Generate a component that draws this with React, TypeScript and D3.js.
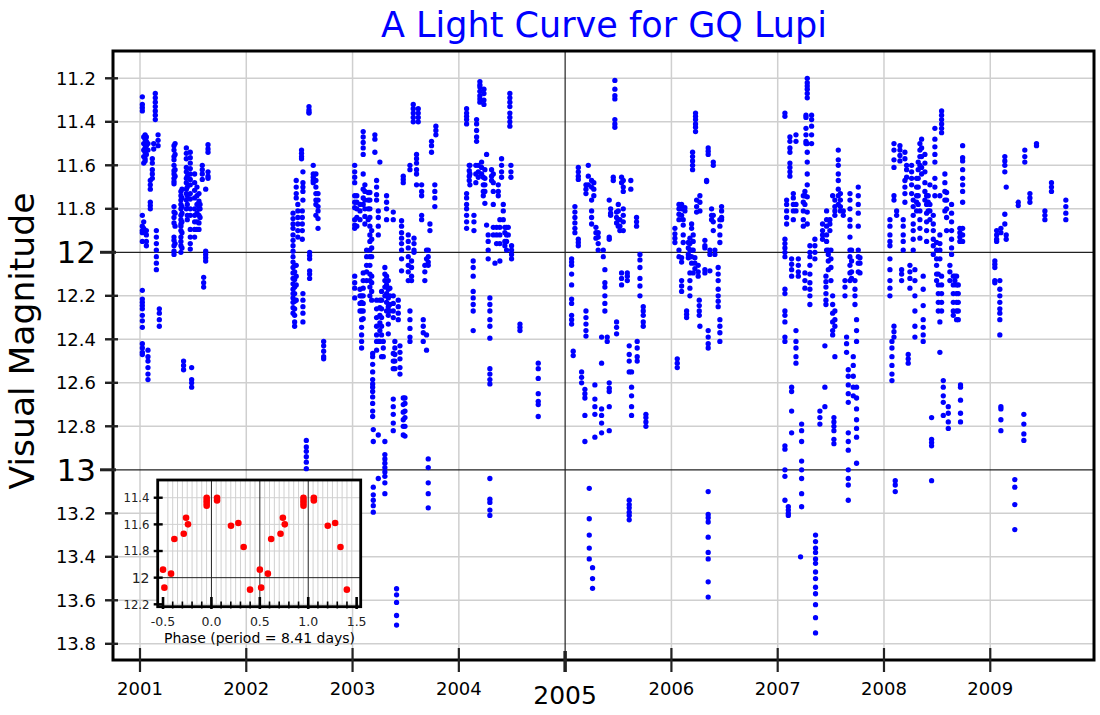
import React from 'react';
import * as d3 from 'd3';

type Col = [number, number[]];

// Observation nights: [decimal year, visual magnitudes]
const s2001: Col[] = [
  [2001.022, [11.285, 11.32, 11.335, 11.35, 11.83, 11.88, 11.9, 11.91, 11.95, 12.175, 12.215, 12.23, 12.245, 12.26, 12.29, 12.315, 12.345, 12.42, 12.44, 12.46, 12.47]],
  [2001.035, [11.47, 11.5, 11.53, 11.56, 11.59, 11.86, 11.89]],
  [2001.048, [11.46, 11.48, 11.5, 11.52, 11.54, 11.57, 11.58]],
  [2001.06, [11.47, 11.49, 11.51, 11.55, 11.9, 11.92, 11.95, 11.97]],
  [2001.075, [11.5, 11.53, 12.45, 12.48, 12.5, 12.53, 12.56, 12.585]],
  [2001.097, [11.67, 11.69, 11.71, 11.77, 11.785, 11.8]],
  [2001.116, [11.57, 11.59, 11.62, 11.64, 11.66]],
  [2001.129, [11.5, 11.525]],
  [2001.144, [11.27, 11.29, 11.31, 11.33, 11.35, 11.37, 11.39]],
  [2001.154, [11.9, 11.93, 11.96, 11.99, 12.02, 12.05, 12.08]],
  [2001.17, [11.46, 11.485, 11.51]],
  [2001.182, [12.26, 12.28, 12.31, 12.34]],
  [2001.32, [11.51, 11.53, 11.56, 11.575, 11.6, 11.625, 11.64, 11.66, 11.675, 11.685, 11.79, 11.815, 11.84, 11.865, 11.93, 11.945, 11.97, 11.995, 12.01]],
  [2001.33, [11.5, 11.55, 11.62, 11.65, 11.82, 11.88, 11.96]],
  [2001.385, [11.72, 11.74, 11.76, 11.78, 11.8, 11.83, 11.85, 11.87, 11.88, 11.9, 11.93, 11.95, 11.97, 12.0]],
  [2001.395, [11.71, 11.75, 11.79, 11.82, 11.86, 11.91, 11.98]],
  [2001.41, [12.5, 12.52, 12.54]],
  [2001.436, [11.52, 11.545, 11.57, 11.61, 11.63, 11.66, 11.68, 11.71, 11.73, 11.76, 11.8]],
  [2001.445, [11.65, 11.7, 11.74, 11.78, 11.83, 11.85]],
  [2001.473, [11.54, 11.565, 11.59, 11.615, 11.64, 11.665, 11.69, 11.73, 11.755, 11.8, 11.83, 11.895, 11.93, 11.96, 11.985]],
  [2001.486, [12.53, 12.585, 12.6, 12.62]],
  [2001.514, [11.64, 11.68, 11.715, 11.75, 11.8, 11.83, 11.86, 11.895, 11.93]],
  [2001.536, [11.7, 11.74, 11.78, 11.82, 11.86, 11.895]],
  [2001.555, [11.73, 11.765, 11.8, 11.83, 11.865, 11.895]],
  [2001.565, [11.78, 11.8, 11.84]],
  [2001.586, [11.6, 11.62, 11.64, 11.665]],
  [2001.599, [12.115, 12.14, 12.16]],
  [2001.618, [11.71, 11.995, 12.01, 12.025, 12.04]],
  [2001.64, [11.505, 11.525, 11.54, 11.63, 11.65, 11.66]],
];

const s2002: Col[] = [
  [2002.44, [11.82, 11.845, 11.87, 11.89, 11.92, 11.945, 11.97, 11.995, 12.02, 12.045, 12.07, 12.095, 12.12, 12.145, 12.17, 12.19, 12.21, 12.23, 12.255, 12.28]],
  [2002.455, [12.06, 12.09, 12.125, 12.16, 12.19, 12.225, 12.26, 12.29, 12.32, 12.34]],
  [2002.47, [11.67, 11.7, 11.73, 11.75, 12.06, 12.11, 12.15, 12.22]],
  [2002.485, [11.78, 11.81, 11.84, 11.87, 11.9, 11.93]],
  [2002.52, [11.53, 11.545, 11.56, 11.57]],
  [2002.527, [11.81, 11.84, 11.87, 11.9, 11.94]],
  [2002.533, [11.63, 11.68, 11.7, 11.72, 11.76, 12.19, 12.22, 12.25, 12.28, 12.32]],
  [2002.565, [12.865, 12.895, 12.915, 12.94, 12.965, 12.995]],
  [2002.59, [11.33, 11.345, 11.355, 11.36]],
  [2002.596, [12.0, 12.015, 12.03, 12.085, 12.1, 12.12]],
  [2002.63, [11.6, 11.64, 11.655, 11.67, 11.68]],
  [2002.655, [11.64, 11.67, 11.7, 11.73, 11.76, 11.78, 11.83]],
  [2002.675, [11.73, 11.76, 11.79, 11.81, 11.845, 11.89]],
  [2002.728, [12.41, 12.43, 12.455, 12.48, 12.49]],
];

const s2003: Col[] = [
  [2003.02, [11.6, 11.63, 11.655, 11.68, 11.74, 11.77, 11.795, 11.85, 11.875, 11.89, 12.11, 12.14, 12.165, 12.21]],
  [2003.04, [11.74, 11.77, 11.8, 11.84, 11.88]],
  [2003.07, [11.78, 11.81, 11.85, 12.17, 12.2, 12.235, 12.27]],
  [2003.085, [12.2, 12.23, 12.27, 12.31, 12.345, 12.38, 12.41, 12.44]],
  [2003.1, [11.445, 11.47, 11.495, 11.52, 11.55, 11.64, 11.71, 11.75, 11.78, 12.095, 12.13, 12.165, 12.2, 12.235, 12.27, 12.305]],
  [2003.116, [11.69, 11.72, 11.76, 11.8, 11.835, 11.87]],
  [2003.132, [11.99, 12.02, 12.06, 12.09, 12.13]],
  [2003.147, [11.725, 11.76, 11.8, 11.85]],
  [2003.163, [11.725, 11.76, 11.8, 11.84, 11.88, 11.92, 11.95, 11.99, 12.02, 12.06, 12.1, 12.13, 12.16, 12.2]],
  [2003.18, [11.9, 11.94, 11.98, 12.02, 12.11, 12.14, 12.18, 12.22]],
  [2003.189, [12.465, 12.48, 12.515, 12.55, 12.585, 12.605, 12.62, 12.64, 12.665, 12.695, 12.73, 12.755]],
  [2003.195, [12.815, 12.87, 13.08, 13.115, 13.14, 13.165, 13.195]],
  [2003.21, [11.46, 11.48, 11.54]],
  [2003.226, [11.67, 11.7, 11.735, 11.76, 12.22, 12.26, 12.3, 12.34, 12.38, 12.41, 12.45]],
  [2003.242, [11.81, 11.84, 11.88, 11.92, 12.41, 12.84, 13.04]],
  [2003.257, [11.585, 12.22, 12.255, 12.29, 12.325, 12.36, 12.41]],
  [2003.273, [12.18, 12.22, 12.26, 12.3, 12.34, 12.38, 12.48]],
  [2003.289, [12.41, 12.44, 12.48]],
  [2003.304, [12.07, 12.1, 12.13, 12.16, 12.2, 12.87, 12.93, 12.95, 12.97, 12.99, 13.01, 13.03, 13.06, 13.11]],
  [2003.32, [11.74, 11.77, 11.8, 11.85, 12.11, 12.15, 12.19, 12.23, 12.27]],
  [2003.336, [12.13, 12.17, 12.21, 12.25, 12.29, 12.33, 12.375]],
  [2003.351, [12.165, 12.2, 12.24, 12.27]],
  [2003.383, [11.815, 11.85, 12.2, 12.235, 12.27, 12.3, 12.465, 12.5, 12.535, 12.675, 12.71, 12.745, 12.785, 12.82]],
  [2003.398, [12.41, 12.44, 12.47, 12.5, 12.535]],
  [2003.414, [13.547, 13.575, 13.61, 13.67, 13.714]],
  [2003.43, [12.22, 12.25, 12.28, 12.31]],
  [2003.446, [12.43, 12.46, 12.49, 12.53, 12.56]],
  [2003.461, [11.855, 11.88, 11.91, 11.935, 11.96, 11.99, 12.03, 12.085]],
  [2003.477, [11.65, 11.665, 11.68, 12.67, 12.7, 12.735, 12.77, 12.8, 12.84]],
  [2003.493, [12.67, 12.695, 12.73, 12.76, 12.8, 12.845]],
  [2003.524, [11.92, 11.95, 11.98, 12.02, 12.06, 12.09, 12.13]],
  [2003.54, [11.6, 11.62, 12.27, 12.31, 12.35, 12.39, 12.41]],
  [2003.555, [12.04, 12.07, 12.11, 12.13]],
  [2003.571, [11.32, 11.34, 11.36, 11.38, 11.4]],
  [2003.578, [11.935, 11.96, 11.99, 12.0]],
  [2003.602, [11.55, 11.57, 11.59, 11.62, 11.64, 11.69]],
  [2003.618, [11.34, 11.36, 11.38, 11.4]],
  [2003.65, [11.69, 11.72, 11.74, 11.83, 11.85]],
  [2003.665, [12.31, 12.34, 12.37, 12.41]],
  [2003.68, [12.06, 12.09, 12.13]],
  [2003.696, [11.99, 12.03, 12.38, 12.45]],
  [2003.712, [11.99, 12.02, 12.045, 12.06, 12.95, 12.99, 13.06, 13.11, 13.175]],
  [2003.728, [11.87, 11.9]],
  [2003.743, [11.49, 11.51, 11.54]],
  [2003.774, [11.69, 11.72, 11.75, 11.79]],
  [2003.784, [11.42, 11.44, 11.46]],
];

const s2004: Col[] = [
  [2004.073, [11.34, 11.36, 11.375, 11.39, 11.41, 11.73, 11.75, 11.78, 11.8, 11.83, 11.86, 11.89]],
  [2004.098, [11.6, 11.625, 11.65, 11.67]],
  [2004.104, [11.6, 11.64, 11.69]],
  [2004.135, [12.04, 12.07, 12.11, 12.18, 12.21, 12.24, 12.27, 12.36]],
  [2004.142, [11.83, 11.86, 11.9]],
  [2004.16, [11.6, 11.64, 11.68]],
  [2004.167, [11.39, 11.41, 11.44, 11.47, 11.49]],
  [2004.183, [11.6, 11.63, 11.655]],
  [2004.198, [11.215, 11.23, 11.24, 11.26, 11.28, 11.295, 11.31]],
  [2004.214, [11.585, 11.61, 11.64]],
  [2004.23, [11.655, 11.69, 11.72, 11.74]],
  [2004.236, [11.25, 11.27, 11.3, 11.32]],
  [2004.245, [11.62, 11.66, 11.69, 11.72, 11.775]],
  [2004.261, [11.55, 11.875]],
  [2004.276, [11.92, 11.95, 11.99, 12.03]],
  [2004.292, [12.21, 12.24, 12.27, 12.31, 12.34, 12.395, 12.535, 12.56, 12.585, 12.605, 13.04, 13.135, 13.15, 13.185, 13.21]],
  [2004.308, [11.62, 11.65, 11.67]],
  [2004.324, [11.64, 11.68, 11.72, 11.78, 11.885, 11.92]],
  [2004.34, [12.05]],
  [2004.355, [11.885, 11.92, 11.96]],
  [2004.371, [11.69, 11.72, 11.74]],
  [2004.386, [11.85, 11.885, 11.92, 11.96, 12.04]],
  [2004.402, [11.57, 11.6, 11.63, 11.655]],
  [2004.418, [11.78, 11.81, 11.85]],
  [2004.433, [11.885, 11.91, 11.95, 11.97]],
  [2004.449, [11.885, 11.92, 11.95, 11.99]],
  [2004.465, [11.885, 11.92]],
  [2004.48, [11.27, 11.29, 11.31, 11.33, 11.36, 11.38, 11.4, 11.42]],
  [2004.49, [11.6, 11.63, 11.655]],
  [2004.496, [11.97, 11.99, 12.01, 12.03]],
  [2004.575, [12.33, 12.345, 12.36]],
  [2004.747, [12.51, 12.535, 12.58, 12.65, 12.685, 12.7, 12.755]],
];

const s2005: Col[] = [
  [2005.061, [12.03, 12.045, 12.06, 12.1, 12.15, 12.215, 12.235, 12.29, 12.31, 12.33]],
  [2005.076, [12.455, 12.475]],
  [2005.092, [11.79, 11.815, 11.84, 11.865, 11.89, 11.91]],
  [2005.124, [11.61, 11.63, 11.65, 11.665, 11.94, 11.955, 11.97]],
  [2005.155, [12.55, 12.575, 12.6]],
  [2005.186, [12.63, 12.65, 12.67, 12.75, 12.87]],
  [2005.196, [11.69, 11.71, 11.73, 12.27, 12.3, 12.33, 12.36, 12.385]],
  [2005.218, [11.6, 11.65, 11.69]],
  [2005.227, [13.085, 13.225, 13.3, 13.36, 13.41]],
  [2005.249, [11.67, 11.7, 11.76, 11.81, 11.84, 11.87]],
  [2005.258, [13.45, 13.5, 13.545]],
  [2005.27, [11.68, 11.71, 11.74]],
  [2005.28, [12.61, 12.675, 12.71, 12.745, 12.85]],
  [2005.29, [11.885, 11.91, 11.935]],
  [2005.311, [11.91, 11.93, 11.96, 11.99]],
  [2005.343, [12.39, 12.51, 12.72, 12.75, 12.785, 12.83]],
  [2005.359, [11.99, 12.02]],
  [2005.374, [12.08, 12.14, 12.16, 12.2, 12.235, 12.27]],
  [2005.396, [12.39, 12.41]],
  [2005.415, [11.76, 11.93, 11.94, 12.6, 12.625, 12.64, 12.71, 12.82]],
  [2005.428, [11.8, 11.82, 11.83]],
  [2005.453, [11.655, 11.67]],
  [2005.468, [11.21, 11.25, 11.28, 11.295, 11.39, 11.41, 11.425]],
  [2005.484, [11.815, 11.84, 11.865, 12.32, 12.345, 12.375]],
  [2005.5, [11.78, 11.81, 11.85, 11.88]],
  [2005.515, [11.85, 11.88, 11.9]],
  [2005.531, [11.655, 11.68, 12.095, 12.12, 12.15]],
  [2005.547, [11.67, 11.7, 11.72, 11.8, 11.83, 11.86, 11.9]],
  [2005.585, [12.095, 12.11, 12.13]],
  [2005.603, [12.43, 12.47, 12.5, 12.55, 13.14, 13.16, 13.175, 13.195, 13.21, 13.23]],
  [2005.618, [11.67, 11.71]],
  [2005.625, [12.55, 12.62, 12.66, 12.71, 12.75]],
  [2005.672, [11.84, 11.86, 11.88]],
  [2005.678, [12.41, 12.44, 12.48, 12.5]],
  [2005.704, [12.01, 12.035, 12.07, 12.12, 12.155, 12.2]],
  [2005.735, [12.25, 12.27, 12.29, 12.32, 12.34]],
  [2005.76, [12.745, 12.76, 12.78, 12.8]],
];

const s2006: Col[] = [
  [2006.033, [11.89, 11.915, 11.935, 11.955]],
  [2006.055, [12.49, 12.51, 12.53]],
  [2006.071, [11.78, 11.8, 11.825, 11.85, 11.99, 12.02]],
  [2006.096, [11.78, 11.8, 11.83, 12.025, 12.045, 12.13, 12.155, 12.18]],
  [2006.111, [11.85, 11.875, 11.92, 11.955]],
  [2006.127, [11.795, 11.81]],
  [2006.143, [12.27, 12.285, 12.3]],
  [2006.159, [11.955, 11.98, 12.01, 12.025]],
  [2006.174, [11.935, 11.96, 11.99, 12.02, 12.095, 12.13, 12.165, 12.2]],
  [2006.19, [11.87, 11.89, 11.99, 12.02, 12.05]],
  [2006.199, [11.54, 11.56, 11.58, 11.6, 11.62]],
  [2006.205, [11.92, 11.95, 11.99, 12.095]],
  [2006.221, [12.025, 12.05, 12.075]],
  [2006.227, [11.36, 11.375, 11.39, 11.41, 11.425, 11.445]],
  [2006.237, [11.76, 11.79, 11.815]],
  [2006.252, [12.06, 12.09, 12.11]],
  [2006.262, [12.22, 12.245, 12.27, 12.29]],
  [2006.268, [11.74, 11.77, 11.81, 12.34]],
  [2006.315, [11.945, 11.97, 11.98, 12.08, 12.095]],
  [2006.331, [11.67, 11.675]],
  [2006.346, [11.52, 11.535, 11.55, 12.36, 12.39, 12.42, 12.44, 13.1, 13.205, 13.22, 13.24, 13.31, 13.38, 13.41, 13.515, 13.585]],
  [2006.362, [11.99, 12.01, 12.085]],
  [2006.378, [11.8, 11.83, 11.85]],
  [2006.394, [11.585, 11.6, 11.83, 11.86, 11.9]],
  [2006.409, [11.99, 12.01]],
  [2006.44, [12.07, 12.1, 12.13, 12.17, 12.2, 12.225, 12.25]],
  [2006.456, [11.85, 11.88, 11.92, 11.955, 12.31, 12.34, 12.37, 12.41]],
  [2006.472, [11.79, 11.81, 11.84, 11.85]],
];

const s2007: Col[] = [
  [2007.068, [11.36, 11.375, 11.94, 11.96, 11.98, 12.0, 12.02, 12.17, 12.19, 12.27, 12.29, 12.32, 12.39, 12.41, 12.89, 12.905, 13.0, 13.03, 13.14]],
  [2007.084, [11.76, 11.78, 11.81, 11.84, 11.87]],
  [2007.1, [13.17, 13.185, 13.2, 13.21]],
  [2007.115, [11.47, 11.49, 11.52, 11.54, 11.59, 11.61, 11.63, 11.65]],
  [2007.131, [12.03, 12.055, 12.08, 12.11, 12.62, 12.64, 12.73, 12.83]],
  [2007.147, [11.73, 11.75, 11.78, 11.81, 11.85]],
  [2007.172, [11.46, 11.49, 11.78, 11.81, 12.36, 12.41, 12.44, 12.48, 12.51]],
  [2007.194, [12.03, 12.06, 12.09, 12.11]],
  [2007.215, [13.4]],
  [2007.225, [12.79, 12.82, 12.87, 12.96, 13.0, 13.04, 13.11, 13.17]],
  [2007.241, [11.74, 11.77, 11.81, 11.85, 11.88]],
  [2007.256, [11.72, 11.74, 11.78, 12.095, 12.13, 12.165]],
  [2007.266, [11.37, 11.38, 11.43, 11.46, 11.49, 11.5]],
  [2007.278, [11.2, 11.22, 11.235, 11.25, 11.27, 11.29, 11.5, 11.54, 11.585, 11.64, 11.69, 11.745, 11.815, 11.87]],
  [2007.303, [11.97, 12.0, 12.02, 12.06, 12.1, 12.14, 12.17, 12.2, 12.24]],
  [2007.319, [11.37, 11.39, 11.42, 11.46, 11.5]],
  [2007.35, [11.94, 11.97, 12.0, 12.03]],
  [2007.356, [13.3, 13.33, 13.36, 13.38, 13.41, 13.43, 13.47, 13.5, 13.54, 13.57, 13.62, 13.68, 13.75]],
  [2007.397, [12.73, 12.76, 12.79]],
  [2007.422, [11.87, 11.9, 11.92, 11.94]],
  [2007.444, [12.43, 12.62, 12.71]],
  [2007.454, [12.11, 12.135, 12.16, 12.19, 12.22, 12.24]],
  [2007.46, [11.81, 11.85, 11.88, 11.92, 11.95, 11.99]],
  [2007.476, [11.99, 12.01, 12.04, 12.08]],
  [2007.491, [11.85, 11.87, 11.9]],
  [2007.501, [11.99, 12.03, 12.07, 12.13]],
  [2007.517, [11.74, 12.2, 12.24, 12.28, 12.32, 12.36, 12.38]],
  [2007.529, [12.76, 12.78, 12.8, 12.82, 12.86, 12.88]],
  [2007.538, [11.76, 11.79, 11.81, 11.83, 12.27, 12.31, 12.34, 12.48]],
  [2007.57, [11.53, 11.575, 11.6, 11.64, 11.67, 11.71, 11.74, 11.78]],
  [2007.59, [11.73, 11.76, 11.79, 11.81]],
  [2007.617, [11.81, 11.83]],
  [2007.633, [12.13, 12.16, 12.2]],
  [2007.648, [12.39, 12.42, 12.46]],
  [2007.664, [12.54, 12.57, 12.61, 12.65, 12.69, 12.83, 12.87, 12.91, 13.0, 13.04, 13.07, 13.14]],
  [2007.68, [11.73, 11.76, 11.8, 11.85, 11.88, 11.93, 11.99, 12.02, 12.06, 12.095, 12.13]],
  [2007.695, [11.99, 12.04, 12.09, 12.12]],
  [2007.711, [12.48, 12.52, 12.57, 12.62, 12.66]],
  [2007.727, [12.13, 12.17, 12.2, 12.24]],
  [2007.742, [12.31, 12.36, 12.41, 12.62, 12.67, 12.72, 12.77, 12.81, 12.85, 12.97]],
  [2007.758, [11.7, 11.74, 11.78, 11.82, 11.88, 11.99, 12.02, 12.05, 12.09]],
  [2007.774, [12.025, 12.05, 12.095]],
];

const s2008: Col[] = [
  [2008.056, [11.85, 11.88, 11.92, 11.95, 11.97, 12.03, 12.08, 12.13, 12.165, 12.2]],
  [2008.075, [12.41, 12.44, 12.48, 12.52, 12.56, 12.59]],
  [2008.094, [11.5, 11.53, 11.575, 11.61, 11.74, 11.76, 12.34, 12.365, 12.39]],
  [2008.106, [13.05, 13.07, 13.1]],
  [2008.119, [11.81, 11.83]],
  [2008.15, [11.51, 11.53, 11.555, 11.58]],
  [2008.166, [12.08, 12.1, 12.13]],
  [2008.181, [11.85, 11.88, 11.92, 11.95, 11.99]],
  [2008.197, [11.54, 11.57, 11.67, 11.7, 11.73, 11.77]],
  [2008.213, [11.6, 11.62, 11.655]],
  [2008.228, [12.47, 12.49, 12.51]],
  [2008.244, [12.06, 12.09, 12.12, 12.165]],
  [2008.26, [11.6, 11.63, 11.66, 11.69, 11.73]],
  [2008.275, [11.76, 11.79, 11.83, 11.87, 11.9, 11.94, 11.99]],
  [2008.291, [12.08, 12.13, 12.2, 12.27, 12.34, 12.39]],
  [2008.307, [11.66, 11.7, 11.74, 11.77, 11.81]],
  [2008.322, [11.585, 11.62, 11.66, 11.7, 11.74, 11.78]],
  [2008.338, [11.5, 11.53, 11.56, 11.6, 11.81, 11.85, 11.89, 11.935]],
  [2008.354, [11.48, 11.52, 11.56, 11.61, 11.64]],
  [2008.369, [12.11, 12.17, 12.245, 12.31, 12.345, 12.38, 12.41]],
  [2008.385, [11.55, 11.59, 11.63, 11.68, 11.72, 11.76]],
  [2008.401, [11.74, 11.78, 11.82, 11.86, 11.9, 11.95]],
  [2008.416, [11.74, 11.77, 11.81]],
  [2008.432, [11.69, 11.78, 11.81, 11.85]],
  [2008.448, [12.76, 12.86, 12.875, 12.89, 13.05]],
  [2008.464, [11.83, 11.87, 11.9, 11.94, 11.97, 12.01]],
  [2008.479, [11.43, 11.48, 11.515, 11.55, 11.585, 11.66, 11.7, 11.74]],
  [2008.495, [11.955, 11.99, 12.03, 12.06, 12.1, 12.13]],
  [2008.511, [12.1, 12.15, 12.19, 12.23, 12.27]],
  [2008.526, [11.74, 11.92, 11.96, 11.99, 12.03, 12.32, 12.46]],
  [2008.542, [11.35, 11.37, 11.39, 11.41, 11.43, 11.45, 12.11, 12.15, 12.19, 12.23, 12.27]],
  [2008.558, [12.59, 12.62, 12.66, 12.69, 12.75]],
  [2008.573, [11.64, 11.68, 11.72, 11.76, 11.81]],
  [2008.589, [11.725, 11.76, 11.8, 11.84, 11.9]],
  [2008.605, [12.71, 12.74, 12.78, 12.81]],
  [2008.62, [12.06, 12.09, 12.13]],
  [2008.636, [11.78, 11.82, 11.86, 11.9, 11.94, 11.98, 12.01]],
  [2008.652, [12.11, 12.15, 12.19, 12.23, 12.27, 12.29]],
  [2008.667, [12.11, 12.13]],
  [2008.683, [12.11, 12.15, 12.19, 12.23, 12.27, 12.31]],
  [2008.699, [12.15, 12.19, 12.23, 12.27, 12.31]],
  [2008.714, [11.89, 11.91, 11.93, 11.95]],
  [2008.72, [12.61, 12.62, 12.68, 12.74, 12.78]],
  [2008.74, [11.51, 11.565, 11.58, 11.62, 11.66, 11.69, 11.72, 11.77, 11.89, 11.92, 11.95]],
];

const s2009: Col[] = [
  [2009.043, [12.04, 12.055, 12.07, 12.13, 12.14]],
  [2009.06, [11.9, 11.92, 11.94, 11.95]],
  [2009.09, [12.13, 12.17, 12.2, 12.23, 12.26, 12.28, 12.31, 12.38]],
  [2009.1, [11.89, 11.91, 12.71, 12.72, 12.77, 12.82]],
  [2009.137, [11.56, 11.58, 11.6, 11.63, 11.825, 11.87]],
  [2009.15, [11.7, 11.92, 11.94]],
  [2009.231, [13.045, 13.08, 13.16, 13.275]],
  [2009.263, [11.77, 11.785]],
  [2009.316, [12.745, 12.79, 12.835, 12.865]],
  [2009.325, [11.53, 11.56, 11.585]],
  [2009.373, [11.73, 11.75, 11.77]],
  [2009.435, [11.5, 11.51]],
  [2009.514, [11.81, 11.83, 11.85]],
  [2009.576, [11.68, 11.7, 11.72]],
  [2009.711, [11.76, 11.79, 11.82, 11.85]],
];

const seasons: Col[][] = [s2001, s2002, s2003, s2004, s2005, s2006, s2007, s2008, s2009];

// Inset: phase-folded light curve (period = 8.41 days), one cycle of points
const phasePoints: [number, number][] = [
  [-0.5, 11.94], [-0.486, 12.075], [-0.417, 11.97], [-0.383, 11.71], [-0.286, 11.67],
  [-0.262, 11.55], [-0.242, 11.6], [-0.049, 11.4], [-0.049, 11.42], [-0.049, 11.44],
  [-0.049, 11.46], [0.058, 11.4], [0.058, 11.42], [0.202, 11.61], [0.278, 11.59],
  [0.333, 11.77], [0.399, 12.09],
];
const cycleOffsets = [0, 1];

const yTicks = [11.2, 11.4, 11.6, 11.8, 12, 12.2, 12.4, 12.6, 12.8, 13, 13.2, 13.4, 13.6, 13.8];
const yTickLabels = ['11.2', '11.4', '11.6', '11.8', '12', '12.2', '12.4', '12.6', '12.8', '13', '13.2', '13.4', '13.6', '13.8'];
const xYears = [2001, 2002, 2003, 2004, 2005, 2006, 2007, 2008, 2009];
const majorMags = [12, 13];
const majorYear = 2005;

const insetXTicks = [-0.5, 0, 0.5, 1, 1.5];
const insetXLabels = ['-0.5', '0.0', '0.5', '1.0', '1.5'];
const insetMinor = [-0.4, -0.3, -0.2, -0.1, 0.1, 0.2, 0.3, 0.4, 0.6, 0.7, 0.8, 0.9, 1.1, 1.2, 1.3, 1.4];
const insetGrid = [-0.45, -0.4, -0.35, -0.3, -0.25, -0.2, -0.15, -0.1, -0.05, 0.05, 0.1, 0.15, 0.2, 0.25, 0.3, 0.35, 0.4, 0.45,
  0.55, 0.6, 0.65, 0.7, 0.75, 0.8, 0.85, 0.9, 0.95, 1.05, 1.1, 1.15, 1.2, 1.25, 1.3, 1.35, 1.4, 1.45];
const insetYTicks = [11.4, 11.6, 11.8, 12, 12.2];
const insetYLabels = ['11.4', '11.6', '11.8', '12', '12.2'];

const FONT = 'DejaVu Sans, sans-serif';

export default function App() {
  const x = d3.scaleLinear().domain([2000.746, 2009.976]).range([113, 1094]);
  const y = d3.scaleLinear().domain([11.0745, 13.8745]).range([51, 660]);
  const L = 113, R = 1094, T = 51, B = 660;

  const points = seasons.flatMap((s) => s.flatMap(([t, ms]) => ms.map((m) => [t, m] as [number, number])));

  const ix = d3.scaleLinear().domain([-0.555, 1.542]).range([157.7, 360.7]);
  const iy = d3.scaleLinear().domain([11.267, 12.218]).range([480, 606.7]);
  const iL = 157.7, iR = 360.7, iT = 480, iB = 606.7;

  return (
    <div style={{ position: 'absolute', left: 0, top: 0 }}>
      <svg width={1100} height={715} style={{ display: 'block', background: '#fff' }} fontFamily={FONT}>
        <rect x={0} y={0} width={1100} height={715} fill="#fff" />
        {/* grid */}
        {yTicks.filter((v) => !majorMags.includes(v)).map((v) => (
          <line key={'gy' + v} x1={L} x2={R} y1={y(v)} y2={y(v)} stroke="#cfcfcf" strokeWidth={1.5} />
        ))}
        {xYears.filter((v) => v !== majorYear).map((v) => (
          <line key={'gx' + v} x1={x(v)} x2={x(v)} y1={T} y2={B} stroke="#cfcfcf" strokeWidth={1.5} />
        ))}
        {majorMags.map((v) => (
          <line key={'my' + v} x1={L} x2={R} y1={y(v)} y2={y(v)} stroke="#222" strokeWidth={1.2} />
        ))}
        <line x1={x(majorYear)} x2={x(majorYear)} y1={T} y2={B} stroke="#222" strokeWidth={1.2} />

        {/* data */}
        {points.map(([t, m], i) => (
          <circle key={'p' + i} cx={x(t)} cy={y(m)} r={2.65} fill="#0000ff" />
        ))}

        {/* frame */}
        <rect x={L} y={T} width={R - L} height={B - T} fill="none" stroke="#000" strokeWidth={3} />

        {/* y ticks */}
        {yTicks.map((v, i) => {
          const major = majorMags.includes(v);
          return (
            <g key={'yt' + v}>
              <line x1={major ? 100 : 105} x2={major ? 116 : 118} y1={y(v)} y2={y(v)} stroke="#222" strokeWidth={major ? 3 : 2.4} />
              <text x={96} y={y(v)} dy="0.36em" textAnchor="end" fontSize={major ? 31 : 18} fill="#000">{yTickLabels[i]}</text>
            </g>
          );
        })}
        {/* x ticks */}
        {xYears.map((v) => {
          const major = v === majorYear;
          return (
            <g key={'xt' + v}>
              <line x1={x(v)} x2={x(v)} y1={major ? 651 : 648} y2={672} stroke="#222" strokeWidth={major ? 3.5 : 2.2} />
              <text x={x(v)} y={major ? 704 : 695} textAnchor="middle" fontSize={major ? 25 : 18} fill="#000">{String(v)}</text>
            </g>
          );
        })}

        {/* labels */}
        <text x={604} y={37} textAnchor="middle" fontSize={35} fill="#0000ff">A Light Curve for GQ Lupi</text>
        <text transform="translate(33.5,341) rotate(-90)" textAnchor="middle" fontSize={34.5} fill="#000">Visual Magnitude</text>

        {/* inset */}
        <rect x={iL} y={iT} width={iR - iL} height={iB - iT} fill="#fff" />
        {insetGrid.map((v) => (
          <line key={'ig' + v} x1={ix(v)} x2={ix(v)} y1={iT} y2={iB} stroke="#d0d0d0" strokeWidth={1} />
        ))}
        {insetYTicks.filter((v) => v !== 12).map((v) => (
          <line key={'igy' + v} x1={iL} x2={iR} y1={iy(v)} y2={iy(v)} stroke="#d0d0d0" strokeWidth={1} />
        ))}
        {[0, 0.5, 1].map((v) => (
          <line key={'igm' + v} x1={ix(v)} x2={ix(v)} y1={iT} y2={iB} stroke="#222" strokeWidth={1} />
        ))}
        <line x1={iL} x2={iR} y1={iy(12)} y2={iy(12)} stroke="#222" strokeWidth={1} />
        {cycleOffsets.flatMap((o) => phasePoints.map(([p, m], i) => (
          <circle key={'ph' + o + '_' + i} cx={ix(p + o)} cy={iy(m)} r={3.3} fill="#ff0000" />
        )))}
        <rect x={iL} y={iT} width={iR - iL} height={iB - iT} fill="none" stroke="#000" strokeWidth={2.8} />
        {insetMinor.map((v) => (
          <line key={'imt' + v} x1={ix(v)} x2={ix(v)} y1={601.5} y2={608.5} stroke="#000" strokeWidth={1.6} />
        ))}
        {insetXTicks.map((v, i) => (
          <g key={'ixt' + v}>
            <line x1={ix(v)} x2={ix(v)} y1={597} y2={609} stroke="#000" strokeWidth={2.6} />
            <text x={ix(v)} y={625.5} textAnchor="middle" fontSize={12.5} fill="#222">{insetXLabels[i]}</text>
          </g>
        ))}
        {insetYTicks.map((v, i) => (
          <g key={'iyt' + v}>
            <line x1={iL - 4} x2={iL + 5} y1={iy(v)} y2={iy(v)} stroke="#000" strokeWidth={2.4} />
            <text x={149.5} y={iy(v)} dy="0.36em" textAnchor="end" fontSize={v === 12 ? 14 : 11.7} fill="#222">{insetYLabels[i]}</text>
          </g>
        ))}
        <text x={259.5} y={643} textAnchor="middle" fontSize={14} fill="#000">Phase (period = 8.41 days)</text>
      </svg>
    </div>
  );
}
